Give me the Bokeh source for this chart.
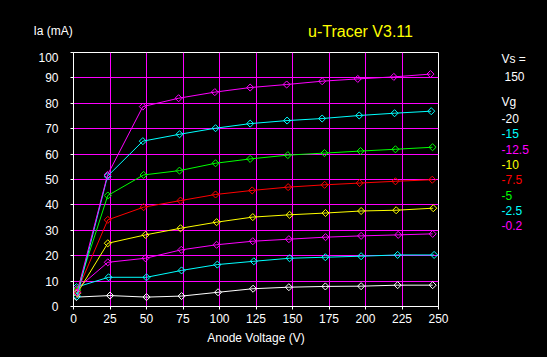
import math
from bokeh.plotting import figure
from bokeh.models import FixedTicker, Range1d
from bokeh.layouts import column, row
from bokeh.core.properties import value
from bokeh.embed import file_html
from bokeh.resources import INLINE

# ---- data (Anode voltage V, anode current mA) per grid voltage ----
vg_m20_v = [2, 25, 50, 74, 99, 123, 147.5, 172.5, 197, 222, 246]
vg_m20_i = [3.7, 4.3, 3.7, 4.1, 5.6, 7.0, 7.6, 7.9, 8.0, 8.4, 8.4]

vg_m15_v = [2, 24, 50, 74, 98.5, 123.5, 148, 172.5, 197, 222, 247]
vg_m15_i = [7.6, 11.5, 11.5, 14.2, 16.5, 17.8, 19.0, 19.4, 19.8, 20.3, 20.3]

vg_m125_v = [2, 23.5, 49.3, 73.8, 98, 122.8, 147.5, 172.6, 197, 222.4, 246]
vg_m125_i = [6.8, 17.4, 19.0, 22.3, 24.3, 25.7, 26.5, 27.3, 27.8, 28.2, 28.6]

vg_m10_v = [2.5, 23.5, 49.3, 73.3, 98, 122.8, 148, 172.6, 197, 221, 246.4]
vg_m10_i = [5.2, 24.9, 28.2, 30.8, 33.2, 35.2, 36.1, 36.8, 37.6, 37.9, 38.7]

vg_m75_v = [2.5, 23.5, 48, 73.3, 97.3, 122.4, 147, 172, 196, 220.5, 245.7]
vg_m75_i = [6.0, 34.1, 39.1, 41.7, 44.1, 45.7, 47.0, 47.9, 48.6, 49.3, 49.9]

vg_m5_v = [2.5, 23.5, 48, 72.6, 97.3, 121, 146.8, 171.9, 196.6, 220.5, 245.9]
vg_m5_i = [6.5, 43.7, 51.8, 53.5, 56.4, 58.1, 59.6, 60.4, 61.2, 61.9, 62.7]

vg_m25_v = [2.5, 23.3, 47.5, 72.6, 97.3, 121, 146.3, 170.3, 195.7, 219.9, 245]
vg_m25_i = [4.0, 51.3, 65.1, 67.8, 70.2, 72.0, 73.2, 74.0, 75.2, 76.1, 76.9]

vg_m02_v = [2.5, 23.3, 47.5, 72, 96.8, 121, 146, 170.3, 194.7, 219.4, 244.5]
vg_m02_i = [5.5, 51.8, 78.7, 82.0, 84.4, 86.2, 87.4, 88.7, 89.6, 90.4, 91.5]

vg_labels = ["-20", "-15", "-12.5", "-10", "-7.5", "-5", "-2.5", "-0.2"]
vg_colors = ["#FFFFFF", "#00FFFF", "#FF00FF", "#FFFF00", "#FF0000", "#00FF00", "#00FFFF", "#FF00FF"]
series = [
    (vg_m20_v, vg_m20_i), (vg_m15_v, vg_m15_i), (vg_m125_v, vg_m125_i),
    (vg_m10_v, vg_m10_i), (vg_m75_v, vg_m75_i), (vg_m5_v, vg_m5_i),
    (vg_m25_v, vg_m25_i), (vg_m02_v, vg_m02_i),
]
x_ticks = [0, 25, 50, 75, 100, 125, 150, 175, 200, 225, 250]
y_ticks = [0, 10, 20, 30, 40, 50, 60, 70, 80, 90, 100]
vs_value = "150"
title_text = "u-Tracer V3.11"

FONT = "Liberation Sans"
W, H = 547, 357
FL, FT, FW, FH = 73, 52, 365, 254          # frame box in page pixels
BOT = H - FT - FH                            # space under frame
PR = 20                                      # main plot right border
SIDE_W = W - FL - FW - PR


def text_panel(w, h):
    f = figure(output_backend="svg", toolbar_location=None,
               frame_width=w, frame_height=h,
               x_range=Range1d(0, w), y_range=Range1d(h, 0),
               x_axis_type=None, y_axis_type=None,
               background_fill_color="black", border_fill_color="black",
               outline_line_color=None, min_border=0)
    f.xgrid.visible = False
    f.ygrid.visible = False
    return f


# ---- main plot ----
p = figure(output_backend="svg", toolbar_location=None,
           frame_width=FW, frame_height=FH,
           x_range=(0, 250), y_range=(0, 100),
           background_fill_color="black", border_fill_color="black",
           outline_line_color="white", outline_line_width=1,
           min_border_left=FL, min_border_right=PR,
           min_border_top=0, min_border_bottom=BOT)

p.xaxis.ticker = FixedTicker(ticks=x_ticks)
p.yaxis.ticker = FixedTicker(ticks=y_ticks)
p.xgrid.ticker = FixedTicker(ticks=x_ticks[1:-1])
p.ygrid.ticker = FixedTicker(ticks=y_ticks[1:-1])
for g in (p.xgrid, p.ygrid):
    g.grid_line_color = "#FF00FF"
    g.grid_line_width = 1

for ax in (p.xaxis, p.yaxis):
    ax.axis_line_color = "white"
    ax.major_tick_line_color = "white"
    ax.minor_tick_line_color = None
    ax.major_tick_in = 0
    ax.major_tick_out = 3
    ax.major_label_text_color = "white"
    ax.major_label_text_font = FONT
    ax.major_label_text_font_size = "12px"
    ax.axis_label_text_color = "white"
    ax.axis_label_text_font = FONT
    ax.axis_label_text_font_size = "12px"
    ax.axis_label_text_font_style = "normal"

p.yaxis.major_label_standoff = 12
p.xaxis.major_label_standoff = 4
p.xaxis.axis_label = "Anode Voltage (V)"
p.xaxis.axis_label_standoff = 5

for (vx, iy), col in zip(series, vg_colors):
    p.line(vx, iy, line_color=col, line_width=1)
    p.scatter(vx, iy, marker="square", angle=math.pi / 4, size=5,
              fill_color=None, line_color=col, line_width=1)

# ---- top strip: title and y-axis caption ----
top = text_panel(W, FT)
top.text(x=[360], y=[31], text=[title_text], text_color="#FFFF00",
         text_font=value(FONT), text_font_size="16px",
         text_align="center", text_baseline="middle")
top.text(x=[33], y=[30], text=["Ia (mA)"], text_color="white",
         text_font=value(FONT), text_font_size="12px",
         text_align="left", text_baseline="middle")

# ---- right strip: Vs and Vg legend ----
side = text_panel(SIDE_W, FH + BOT)
sx = 501 - FL - FW - PR
side.text(x=[sx, sx + 3, sx], y=[58 - FT, 76 - FT, 101 - FT],
          text=["Vs =", vs_value, "Vg"], text_color="white",
          text_font=value(FONT), text_font_size="12px",
          text_align="left", text_baseline="middle")
side.text(x=[sx] * len(vg_labels),
          y=[118 - FT + k * 15.3 for k in range(len(vg_labels))],
          text=vg_labels, text_color=vg_colors,
          text_font=value(FONT), text_font_size="12px",
          text_align="left", text_baseline="middle")

layout = column(top, row(p, side, spacing=0), spacing=0)

html = file_html(layout, INLINE).replace("<body>", '<body style="background:#000;margin:0">')
open("out.html", "w").write(html)
